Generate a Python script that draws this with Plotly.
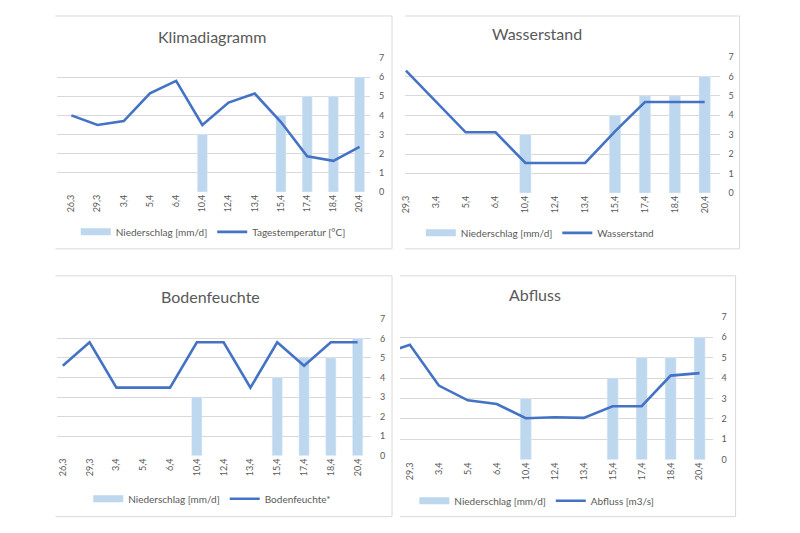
import plotly.graph_objects as go

# Datum (Tag,Monat) - 26,3 liegt im Abfluss/Wasserstand-Diagramm ausserhalb des sichtbaren Bereichs
dates = ["26,3", "29,3", "3,4", "5,4", "6,4", "10,4", "12,4", "13,4", "15,4", "17,4", "18,4", "20,4"]

niederschlag = [None, None, None, None, None, 3, None, None, 4, 5, 5, 6]
temperatur = [4.0, 3.5, 3.7, 5.15, 5.8, 3.5, 4.67, 5.14, 3.65, 1.86, 1.62, 2.35]
wasserstand = [None, 6.3, 4.7, 3.12, 3.12, 1.54, 1.54, 1.54, 3.17, 4.68, 4.68, 4.68]
bodenfeuchte = [4.6, 5.8, 3.48, 3.48, 3.48, 5.8, 5.8, 3.48, 5.8, 4.6, 5.8, 5.8]
abfluss = [5.15, 5.63, 3.63, 2.91, 2.73, 2.03, 2.08, 2.05, 2.62, 2.62, 4.12, 4.24]

y_ticks = [0, 1, 2, 3, 4, 5, 6, 7]

W, H = 800, 533
BAR = "#bdd7ee"
LINE = "#4472c4"
GRID = "#d9d9d9"
TXT = "#595959"
FONT = "Lato, Open Sans, sans-serif"

# the page shows the figure slightly shifted/scaled, so pixel positions are corrected here
def px(x):
    return (x - 12.5) / 0.995 / W

def py(y):
    return 1 - (y - 14) / 0.98 / H

panels = [
    ("Klimadiagramm", "Tagestemperatur [°C]", temperatur, (57, 370, 58, 192), [-0.53, 11.4], (212, 37), (213, 232)),
    ("Wasserstand", "Wasserstand", wasserstand, (405, 720, 57, 193), [0.97, 11.5], (537, 34), (540, 233)),
    ("Bodenfeuchte", "Bodenfeuchte*", bodenfeuchte, (57, 371, 319, 456), [-0.2, 11.5], (210, 297), (212, 499)),
    ("Abfluss", "Abfluss [m3/s]", abfluss, (400, 713, 317, 460), [0.66, 11.45], (535, 295), (537, 501)),
]

# panel frames (top, right, bottom edges)
frames = [(55, 392, 16, 249), (405, 740, 16, 249), (55, 392, 276, 517), (400, 736, 276, 517)]

fig = go.Figure()
layout = {}
annotations = []
shapes = []

for i, (title, label, values, box, xr, tpos, lpos) in enumerate(panels, start=1):
    sfx = "" if i == 1 else str(i)
    leg = "legend" if i == 1 else "legend" + str(i)
    fig.add_trace(go.Bar(
        x=dates, y=niederschlag, name="Niederschlag [mm/d]",
        marker_color=BAR, width=0.38, showlegend=False,
        xaxis="x" + sfx, yaxis="y" + sfx))
    # legend entry only: wide flat swatch like in the original
    fig.add_trace(go.Scatter(
        x=[None], y=[None], name="Niederschlag [mm/d]", mode="lines",
        line=dict(color=BAR, width=7),
        xaxis="x" + sfx, yaxis="y" + sfx, legend=leg))
    fig.add_trace(go.Scatter(
        x=dates, y=values, name=label, mode="lines",
        line=dict(color=LINE, width=2.6),
        xaxis="x" + sfx, yaxis="y" + sfx, legend=leg))

    l, r, t, b = box
    layout["xaxis" + sfx] = dict(
        domain=[px(l), px(r)], anchor="y" + sfx, type="category",
        categoryorder="array", categoryarray=dates, range=xr,
        tickangle=-90, tickfont=dict(size=9, color=TXT, family=FONT),
        showgrid=False, showline=False, zeroline=False, ticks="")
    layout["yaxis" + sfx] = dict(
        domain=[py(b), py(t)], anchor="x" + sfx, side="right",
        range=[0, 7], tickvals=y_ticks, tickfont=dict(size=9, color=TXT, family=FONT),
        gridcolor=GRID, gridwidth=1, showline=False, zeroline=False, ticklabelstandoff=8)
    layout[leg] = dict(
        orientation="h", x=px(lpos[0]), y=py(lpos[1]), xanchor="center", yanchor="middle",
        font=dict(size=10, color=TXT, family=FONT), bgcolor="rgba(0,0,0,0)",
        itemwidth=30, tracegroupgap=0)
    annotations.append(dict(
        text=title, x=px(tpos[0]), y=py(tpos[1]), xref="paper", yref="paper",
        xanchor="center", yanchor="middle", showarrow=False,
        font=dict(size=16, color=TXT, family=FONT)))

for (l, r, t, b) in frames:
    for x0, y0, x1, y1 in [(l, t, r, t), (r, t, r, b), (l, b, r, b)]:
        shapes.append(dict(type="line", xref="paper", yref="paper",
                           x0=px(x0), y0=py(y0), x1=px(x1), y1=py(y1),
                           line=dict(color=GRID, width=1)))

fig.update_layout(
    width=W, height=H,
    margin=dict(l=0, r=0, t=0, b=0),
    paper_bgcolor="white", plot_bgcolor="white",
    barmode="overlay",
    annotations=annotations, shapes=shapes,
    font=dict(family=FONT, color=TXT),
    **layout)

fig.write_html("out.html")
